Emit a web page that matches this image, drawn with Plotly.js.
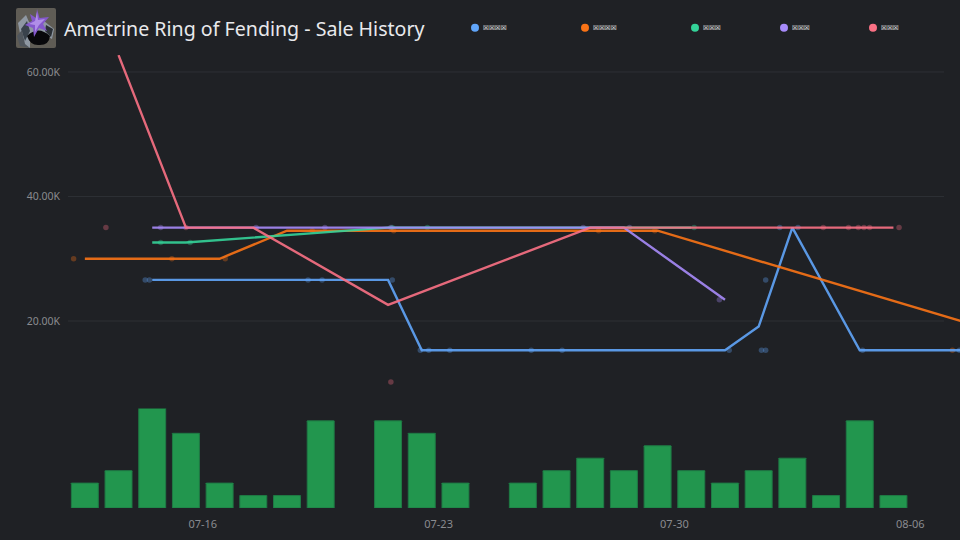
<!DOCTYPE html>
<html><head><meta charset="utf-8">
<script src="https://cdn.plot.ly/plotly-3.0.1.min.js"></script>
<style>html,body{margin:0;padding:0;background:#1f2125}</style></head>
<body><div id="c" style="width:960px;height:540px"></div>
<script>
const titleText = "Ametrine Ring of Fending - Sale History";
const seriesNames = ["\u2612\u2612\u2612\u2612","\u2612\u2612\u2612\u2612","\u2612\u2612\u2612","\u2612\u2612\u2612","\u2612\u2612\u2612"];
const colors = ["#60a5fa","#f97316","#34d399","#a78bfa","#fb7185"];

const blueLineX = ["2024-07-14 12:00","2024-07-21 12:00","2024-07-22 12:00","2024-07-31 12:00","2024-08-01 12:00","2024-08-02 12:00","2024-08-04 12:00","2024-08-07 12:00"];
const blueLineY = [26600,26600,15300,15300,19100,35000,15300,15300];
const orangeLineX = ["2024-07-12 12:00","2024-07-16 12:00","2024-07-18 12:00","2024-07-29 12:00","2024-08-07 12:00"];
const orangeLineY = [30000,30000,34500,34500,20000];
const greenLineX = ["2024-07-14 12:00","2024-07-15 12:00","2024-07-19 12:00","2024-07-21 12:00","2024-07-30 12:00"];
const greenLineY = [32600,32600,34200,35000,35000];
const purpleLineX = ["2024-07-14 12:00","2024-07-28 12:00","2024-07-31 12:00"];
const purpleLineY = [35000,35000,23400];
const pinkLineX = ["2024-07-13 12:00","2024-07-15 12:00","2024-07-17 12:00","2024-07-21 12:00","2024-07-27 12:00","2024-08-05 12:00"];
const pinkLineY = [62700,35000,35000,22600,35000,35000];

const blueDotX = ["2024-07-14 07:00","2024-07-14 10:00","2024-07-19 03:00","2024-07-19 13:00","2024-07-21 15:00","2024-07-22 11:00","2024-07-22 17:00","2024-07-23 08:00","2024-07-25 18:00","2024-07-26 16:00","2024-07-31 15:00","2024-08-01 14:00","2024-08-01 17:00","2024-08-01 17:00","2024-08-02 03:00","2024-08-02 16:00","2024-08-04 14:00","2024-08-07 11:00"];
const blueDotY = [26600,26600,26600,26600,26600,15300,15300,15300,15300,15300,15300,15300,15300,26600,35000,35000,15300,15300];
const orangeDotX = ["2024-07-12 04:00","2024-07-15 02:00","2024-07-16 16:00","2024-07-19 06:00","2024-07-21 16:00","2024-07-27 18:00","2024-07-29 10:00","2024-08-07 06:00"];
const orangeDotY = [30000,30000,30000,34500,34500,34500,34500,15300];
const greenDotX = ["2024-07-14 18:00","2024-07-15 15:00","2024-07-21 15:00","2024-07-22 16:00","2024-07-30 14:00"];
const greenDotY = [32600,32600,35000,35000,35000];
const purpleDotX = ["2024-07-14 18:00","2024-07-17 14:00","2024-07-19 15:00","2024-07-21 14:00","2024-07-27 07:00","2024-07-28 16:00","2024-07-31 08:00"];
const purpleDotY = [35000,35000,35000,35000,35000,35000,23400];
const pinkDotX = ["2024-07-13 03:00","2024-07-15 12:00","2024-07-21 14:00","2024-08-03 10:00","2024-08-04 04:00","2024-08-04 11:00","2024-08-04 15:00","2024-08-04 19:00","2024-08-05 16:00"];
const pinkDotY = [35000,35000,10200,35000,35000,35000,35000,35000,35000];

const barDates = ["2024-07-12","2024-07-13","2024-07-14","2024-07-15","2024-07-16","2024-07-17","2024-07-18","2024-07-19","2024-07-20","2024-07-21","2024-07-22","2024-07-23","2024-07-24","2024-07-25","2024-07-26","2024-07-27","2024-07-28","2024-07-29","2024-07-30","2024-07-31","2024-08-01","2024-08-02","2024-08-03","2024-08-04","2024-08-05"].map(d => d + " 12:00");
const barCounts = [2,3,8,6,2,1,1,7,0,7,6,2,0,2,3,4,3,5,3,2,3,4,1,7,1];
const tickDates = ["2024-07-16","2024-07-23","2024-07-30","2024-08-06"];
const tickLabels = ["07-16","07-23","07-30","08-06"];
const priceTicks = [20000,40000,60000];
const priceLabels = ["20.00K","40.00K","60.00K"];

const FONT = "Noto Sans, sans-serif";
const L=68,R=0,T=55,B=32,W=960,H=540, PW=W-L-R, PH=H-T-B;
const px=x=>(x-L)/PW, py=y=>1-(y-T)/PH;

const lineSets=[[blueLineX,blueLineY],[orangeLineX,orangeLineY],[greenLineX,greenLineY],[purpleLineX,purpleLineY],[pinkLineX,pinkLineY]];
const dotSets=[[blueDotX,blueDotY],[orangeDotX,orangeDotY],[greenDotX,greenDotY],[purpleDotX,purpleDotY],[pinkDotX,pinkDotY]];
const traces=[];
traces.push({type:"bar",x:barDates,y:barCounts,xaxis:"x",yaxis:"y2",width:69120000,showlegend:false,hoverinfo:"skip",
  marker:{color:"#22964e",line:{color:"#1f7a45",width:barCounts.map(c=>c?1:0)},cornerradius:1}});
dotSets.forEach((s,i)=>traces.push({type:"scatter",mode:"markers",x:s[0],y:s[1],name:seriesNames[i],xaxis:"x",yaxis:"y",showlegend:false,
  marker:{color:colors[i],size:5.5,opacity:0.32}}));
lineSets.forEach((s,i)=>traces.push({type:"scatter",mode:"lines",x:s[0],y:s[1],name:seriesNames[i],xaxis:"x",yaxis:"y",showlegend:false,
  line:{color:colors[i],width:2.4},opacity:0.9}));

const legendX=[475,585,695,784,873];
const shapes=legendX.map((x,i)=>({type:"circle",xref:"paper",yref:"paper",x0:px(x-4),x1:px(x+4),y0:py(27.7+4),y1:py(27.7-4),fillcolor:colors[i],line:{width:0}}));
priceTicks.forEach(v=>shapes.push({type:"line",layer:"below",xref:"paper",yref:"y",x0:0,x1:px(944),y0:v,y1:v,line:{color:"#2e3035",width:1}}));
const annotations=legendX.map((x,i)=>({xref:"paper",yref:"paper",x:px(x+8),y:py(27.7),xanchor:"left",yanchor:"middle",showarrow:false,text:seriesNames[i],xshift:-2,
  font:{family:"DejaVu Sans",size:6.6,color:"#ffffff"}}));

const icon=`<svg xmlns="http://www.w3.org/2000/svg" width="120" height="120" viewBox="0 0 40 40"><rect width="40" height="40" rx="2" fill="#5f5c55"/><path d="M2 15 L10 7 L13 14 L28 13 L38 21 L36 31 L24 24 L14 31 L14 40 L6 36 Z" fill="#8f98a3"/><path d="M5 21 L11 13 L14 23 L9 33 Z" fill="#39424c"/><path d="M30 17 L37 21 L35 29 L29 23 Z" fill="#2a2f35"/><path d="M11 28 Q22 17 34 28 Q33 38 22 37 Q14 37 11 28Z" fill="#08080b"/><path d="M21 1 L23.5 10 L33 9 L27 16 L31 23 L23 20 L18 29 L17 20 L9 17 L16 13 L14 6 L20 10Z" fill="#8458cc"/><path d="M21 4 L22 12 L29 11 L23 17 L19 24 L19 17 L13 16 L19 13Z" fill="#b08ee8"/><path d="M1 28 L6 22 L9 36 L14 40 L4 38Z" fill="#50565d"/></svg>`;

const layout={
  width:W,height:H,paper_bgcolor:"#1f2125",plot_bgcolor:"#1f2125",
  margin:{l:L,r:R,t:T,b:B},
  font:{family:FONT,color:"#8a8b8f",size:11},
  title:{text:titleText,x:64/W,xanchor:"left",xref:"container",y:1-29/H,yanchor:"middle",font:{family:FONT,size:19.6,color:"#e8e9ec"}},
  showlegend:false,bargap:0,hovermode:false,
  xaxis:{type:"date",range:["2024-07-12","2024-08-07 11:25"],tickmode:"array",tickvals:tickDates,ticktext:tickLabels,showgrid:false,zeroline:false,showline:false,ticks:"",anchor:"y2",ticklabelstandoff:8,tickfont:{size:11,color:"#8a8b8f"}},
  yaxis:{domain:[py(395),1],range:[8114,62725],tickmode:"array",tickvals:priceTicks,ticktext:priceLabels,showgrid:false,zeroline:false,showline:false,ticks:"",ticklabelstandoff:7,tickfont:{size:10.5,color:"#8a8b8f"}},
  yaxis2:{domain:[0,py(408.4)],range:[0,8],showgrid:false,zeroline:false,showline:false,showticklabels:false,ticks:""},
  shapes,annotations,
  images:[{source:"data:image/svg+xml;utf8,"+encodeURIComponent(icon),xref:"paper",yref:"paper",x:px(16),y:py(8),sizex:40/PW,sizey:40/PH,sizing:"stretch",xanchor:"left",yanchor:"top",layer:"above"}]
};
Plotly.newPlot("c",traces,layout,{displayModeBar:false,staticPlot:true});
</script></body></html>
